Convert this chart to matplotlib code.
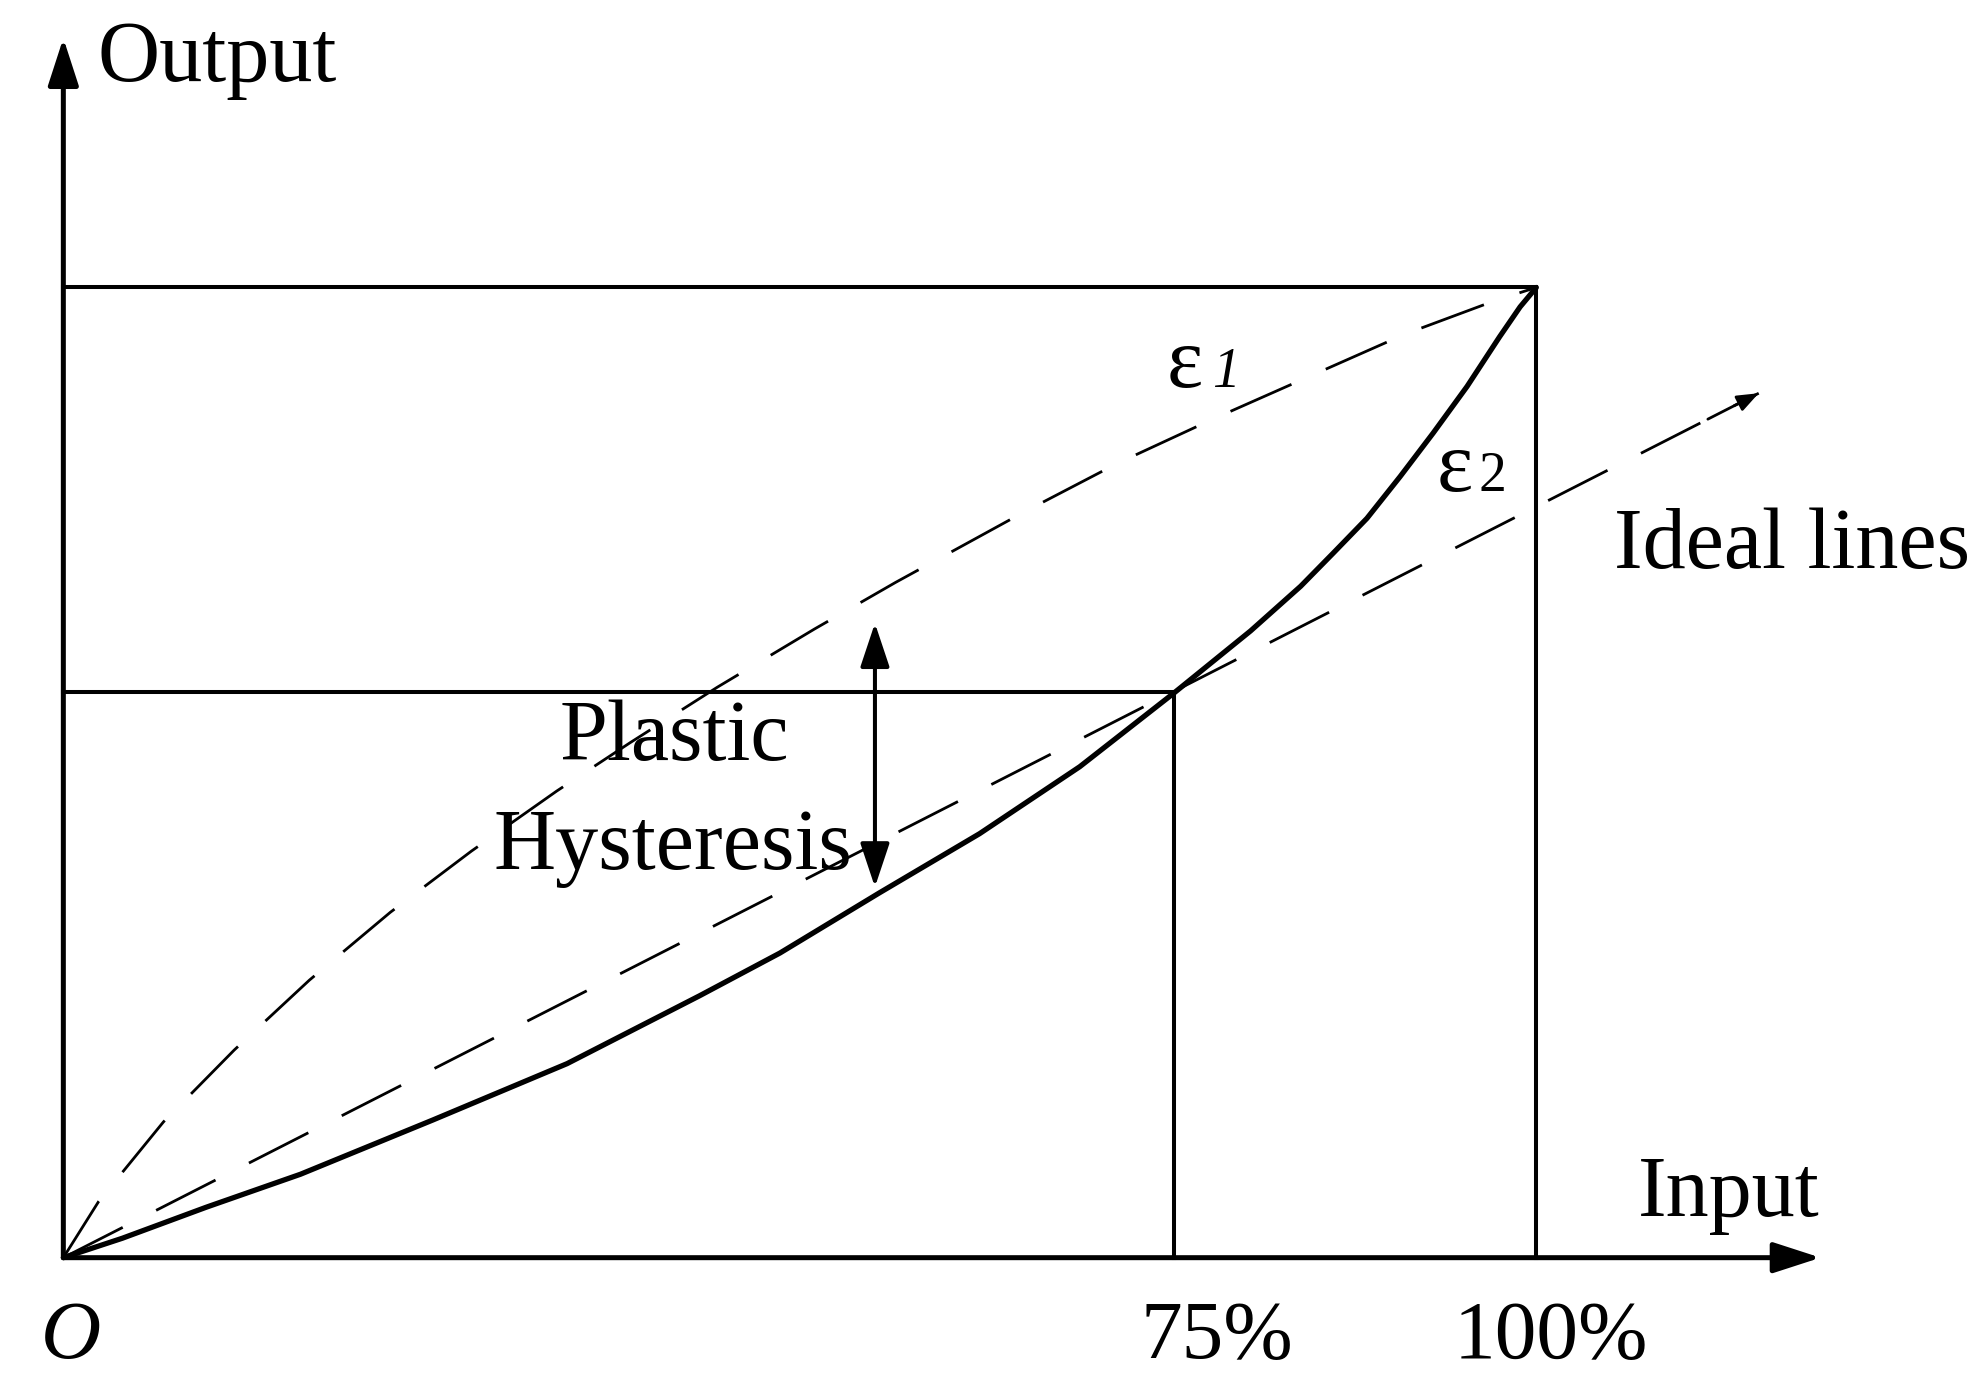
import matplotlib.pyplot as plt

plt.rcParams['font.family'] = ['Liberation Serif', 'DejaVu Serif']

# DATA (input %, output %)

# real (solid) characteristic, convex
real_x = [0, 4.0, 9.7, 16.1, 25.1, 34.2, 43.2, 48.65, 55.4, 62.2, 69.0, 75.4,
          80.6, 84.0, 86.2, 88.5, 90.75, 93.0, 95.3, 97.5, 98.9, 100]
real_y = [0, 2.0, 5.2, 8.6, 14.2, 20.0, 27.0, 31.4, 37.6, 43.7, 50.6, 58.2,
          64.6, 69.2, 72.6, 76.2, 80.5, 85.0, 89.8, 94.9, 98.0, 100]

# upper dashed characteristic, concave
upper_x = [0, 2.4, 6.8, 11.6, 16.7, 22.2, 27.7, 33.5, 38.5, 44.4, 51.0, 56.5,
           65.4, 71.6, 78.0, 84.4, 91.1, 97.3, 100]
upper_y = [0, 5.8, 14.0, 21.4, 28.6, 35.6, 41.9, 48.1, 53.1, 58.8, 64.8, 69.6,
           77.0, 81.9, 86.4, 90.7, 95.2, 98.7, 100]

# ideal straight line, from origin through the 75% point
ideal_x = [0, 115.1]
ideal_y = [0, 89.1]

# reference levels
in_mid, out_mid = 75.4, 58.3
in_full, out_full = 100, 100

# axis arrow ends
x_axis_end = 119.3
y_axis_end = 125.7

# hysteresis arrow
hyst_x = 55.1
hyst_y = [38.2, 65.4]

tick_labels = ["O", "75%", "100%"]


# FIGURE

fig = plt.figure(figsize=(19.86, 13.97), dpi=100)
ax = fig.add_axes([0, 0, 1, 1])
ax.set_xlim(-4.30, 130.53)
ax.set_ylim(-14.36, 129.63)
ax.axis('off')

K = 'black'
big_head = "-|>,head_length=1.45,head_width=0.47"

# axes with arrows
ax.annotate("", xy=(x_axis_end, 0), xytext=(0, 0),
            arrowprops=dict(arrowstyle=big_head, color=K, lw=3.6,
                            mutation_scale=20, shrinkA=0, shrinkB=0))
ax.annotate("", xy=(0, y_axis_end), xytext=(0, 0),
            arrowprops=dict(arrowstyle=big_head, color=K, lw=3.6,
                            mutation_scale=20, shrinkA=0, shrinkB=0))

# reference boxes
ax.plot([0, in_full, in_full], [out_full, out_full, 0], color=K, lw=2.9,
        solid_joinstyle='miter')
ax.plot([0, in_mid, in_mid], [out_mid, out_mid, 0], color=K, lw=2.9,
        solid_joinstyle='miter')

# curves
ax.plot(real_x, real_y, color=K, lw=3.8, solid_capstyle='round',
        solid_joinstyle='round')
ax.plot(upper_x, upper_y, color=K, lw=2.0, dashes=(24, 13.5))
ax.plot(ideal_x, ideal_y, color=K, lw=2.0, dashes=(24, 13.5))

# small arrowhead on the ideal line
dx = ideal_x[1] - ideal_x[0]
dy = ideal_y[1] - ideal_y[0]
ax.annotate("", xy=(ideal_x[1], ideal_y[1]),
            xytext=(ideal_x[1] - 0.03 * dx, ideal_y[1] - 0.03 * dy),
            arrowprops=dict(arrowstyle="-|>,head_length=0.65,head_width=0.25",
                            color=K, lw=2.0, mutation_scale=20,
                            shrinkA=0, shrinkB=0))

# plastic hysteresis double arrow
ax.annotate("", xy=(hyst_x, hyst_y[1]), xytext=(hyst_x, hyst_y[0]),
            arrowprops=dict(arrowstyle="<|-|>,head_length=1.35,head_width=0.45",
                            color=K, lw=2.9, mutation_scale=20,
                            shrinkA=0, shrinkB=0))


# TEXT

fs = 62
ax.text(2.3, 121.3, "Output", fontsize=fs, va='baseline', ha='left')
ax.text(106.9, 4.3, "Input", fontsize=fs, va='baseline', ha='left')
ax.text(105.3, 71.1, "Ideal lines", fontsize=fs, va='baseline', ha='left')
ax.text(41.5, 51.3, "Plastic", fontsize=fs, va='baseline', ha='center')
ax.text(41.4, 40.1, "Hysteresis", fontsize=fs, va='baseline', ha='center')

ax.text(-1.5, -10.3, tick_labels[0], fontsize=fs - 2, va='baseline', ha='left',
        style='italic')
ax.text(78.3, -10.3, tick_labels[1], fontsize=fs - 2, va='baseline', ha='center')
ax.text(101.0, -10.3, tick_labels[2], fontsize=fs - 2, va='baseline', ha='center')

# epsilon labels
ax.text(74.9, 89.7, "\u03b5", fontsize=62, va='baseline', ha='left')
ax.text(78.0, 89.7, "1", fontsize=40, va='baseline', ha='left', style='italic')
ax.text(93.2, 79.0, "\u03b5", fontsize=62, va='baseline', ha='left')
ax.text(96.1, 79.0, "2", fontsize=40, va='baseline', ha='left')

fig.savefig('out.png', dpi=100, facecolor='white')
